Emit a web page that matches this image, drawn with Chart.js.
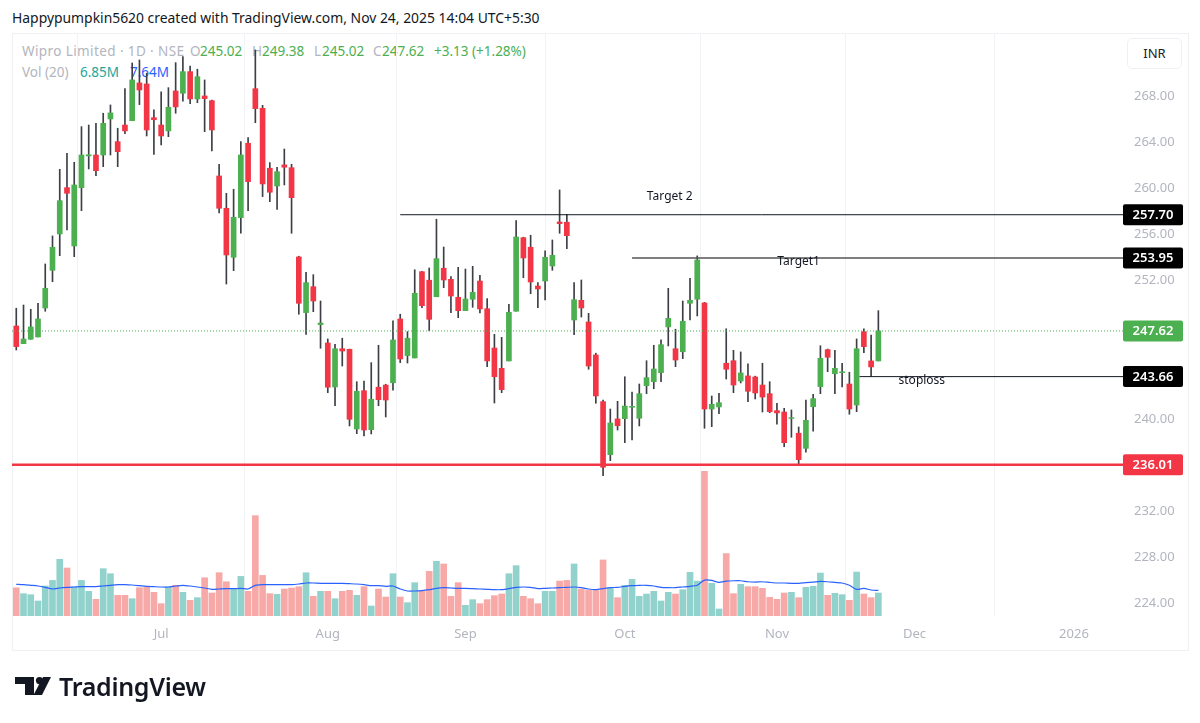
<!DOCTYPE html>
<html>
<head>
<meta charset="utf-8">
<title>Wipro Limited</title>
<script src="https://cdn.jsdelivr.net/npm/chart.js@4/dist/chart.umd.min.js"></script>
<style>
  html, body { margin: 0; padding: 0; background: #fff; }
  #page { position: relative; width: 1200px; height: 723px; overflow: hidden; font-family: "Noto Sans", sans-serif; }
  #page span, #page div.abs { position: absolute; white-space: nowrap; }
  #pane { position: absolute; left: 12px; top: 33px; width: 1175px; height: 616px; border: 1px solid #eef0f3; }
  #grafico { position: absolute; left: 0; top: 0; }
  .gray { color: #b2b5be; }
  .up { color: #4caf50; }
  .row1 { top: 42px; font-size: 13.5px; }
  .row2 { top: 63px; font-size: 13.5px; }
  #inr { left: 1127px; top: 38px; width: 53px; height: 29px; line-height: 29px; border: 1px solid #eef0f3; border-radius: 5px; text-align: center; font-size: 13px; color: #222; background: #fff; z-index: 2; }
  #marca { position: absolute; left: 0; top: 0; }
</style>
</head>
<body>
<div id="page">
  <span style="left:12px; top:8px; font-size:13.9px; color:#131722;">Happypumpkin5620 created with TradingView.com, Nov 24, 2025 14:04 UTC+5:30</span>
  <div id="pane"></div>

  <span class="gray row1" style="left:22px; letter-spacing:0.4px;">Wipro Limited · 1D · NSE</span>
  <span class="gray row1" style="left:190px;">O</span><span class="up row1" style="left:200px;">245.02</span>
  <span class="gray row1" style="left:252px;">H</span><span class="up row1" style="left:262px;">249.38</span>
  <span class="gray row1" style="left:314px;">L</span><span class="up row1" style="left:322px;">245.02</span>
  <span class="gray row1" style="left:373px;">C</span><span class="up row1" style="left:382px;">247.62</span>
  <span class="up row1" style="left:434px;">+3.13 (+1.28%)</span>
  <span class="gray row2" style="left:22px;">Vol (20)</span>
  <span class="row2" style="left:80px; color:#26a69a;">6.85M</span>
  <span class="row2" style="left:130px; color:#2962ff;">7.64M</span>

  <canvas id="grafico" width="1200" height="723"></canvas>
  <div class="abs" id="inr">INR</div>

  <svg id="marca" width="60" height="723">
    <path d="M15 677h19v18h-9v-11h-10z" fill="#131722"/>
    <circle cx="39.5" cy="680.6" r="3.6" fill="#131722"/>
    <path d="M43 677h8l-9 18h-8.5z" fill="#131722"/>
  </svg>
  <span style="left:59px; top:669px; font-size:25px; font-weight:600; color:#131722; letter-spacing:-0.3px;">TradingView</span>
</div>

<script>
// Daily candles
const opens = [248.05,246.52,246.90,247.10,249.61,252.88,256.03,260.05,254.99,260.05,262.80,262.88,262.88,266.01,264.04,265.48,265.86,269.13,269.04,266.12,
  265.48,264.97,268.43,268.23,270.11,267.74,268.00,267.59,261.06,258.26,254.01,257.45,263.90,268.63,266.93,261.73,260.19,262.02,261.78,254.04,
  249.21,251.46,248.17,246.58,242.76,246.08,246.03,239.12,242.44,239.06,242.74,242.93,243.13,248.66,245.48,245.28,252.76,252.02,250.59,253.06,
  252.10,250.54,249.38,250.37,251.95,249.55,246.14,244.38,245.02,249.33,255.71,254.88,251.52,251.95,253.26,257.07,257.05,248.57,250.28,248.40,
  245.54,241.49,236.89,239.99,240.01,241.00,240.05,242.87,243.22,244.00,247.97,246.08,245.82,250.02,250.37,250.05,240.85,241.03,244.82,245.04,
  243.28,243.72,243.63,242.93,242.18,240.71,240.59,240.03,238.75,237.44,241.05,242.79,246.00,243.91,244.00,243.02,241.20,247.56,245.02,245.02];
const highs = [249.59,249.87,249.50,250.02,253.43,255.86,261.64,263.03,262.25,265.34,265.48,265.63,266.50,267.22,265.20,268.63,270.86,271.12,269.97,266.79,
  268.35,268.72,270.89,271.41,270.60,270.32,269.39,267.65,262.08,259.56,259.91,264.04,264.38,271.99,267.19,262.22,261.82,263.40,262.08,254.10,
  252.71,252.50,250.22,246.93,246.47,246.99,246.05,243.22,243.28,244.87,246.38,243.00,248.49,249.07,247.56,252.93,252.80,253.08,257.31,254.90,
  252.33,253.14,252.99,253.23,252.45,250.42,247.33,247.07,249.93,257.19,255.75,255.92,251.81,254.56,255.51,259.85,257.74,251.81,252.04,249.15,
  245.69,241.63,240.85,241.52,243.65,242.33,243.02,245.04,246.38,246.84,251.32,247.77,250.22,252.19,254.13,250.10,241.98,242.22,247.81,245.94,
  245.80,244.76,243.70,244.82,243.22,241.35,240.91,240.77,239.29,241.63,242.13,246.34,246.05,245.94,244.82,244.04,246.93,247.81,247.27,249.38];
const lows = [245.97,246.52,246.90,247.10,249.33,251.89,254.15,256.38,254.06,258.05,261.67,261.09,261.87,262.88,261.87,264.73,265.86,267.25,264.53,262.94,
  263.75,264.47,266.50,267.54,267.33,267.42,264.90,263.23,257.85,251.69,252.85,256.09,258.05,265.68,259.27,258.83,258.17,260.28,256.09,249.07,
  247.33,249.29,246.12,242.27,241.14,244.58,239.38,238.71,238.51,238.69,241.14,240.16,242.48,244.87,244.84,245.28,249.64,247.64,250.59,251.37,
  249.21,248.77,249.38,249.67,249.18,244.52,241.37,242.27,245.02,249.33,252.24,250.85,249.64,250.31,252.88,256.09,254.76,247.30,248.83,244.30,
  241.35,235.07,236.37,239.03,237.93,238.17,239.38,242.18,242.61,243.22,246.32,244.52,245.22,248.57,248.92,239.18,239.32,240.45,243.45,242.27,
  243.11,241.49,241.72,240.59,240.53,239.53,237.58,238.40,236.02,237.10,238.92,242.18,244.09,242.18,242.76,240.40,240.62,245.74,243.69,245.02];
const closes = [246.26,246.92,247.97,248.66,251.32,254.88,258.92,259.56,260.28,262.88,262.90,261.52,265.63,266.53,263.17,264.97,269.39,268.52,265.05,265.94,
  264.53,267.02,267.05,270.11,267.74,269.67,267.77,265.05,258.26,254.21,257.48,262.88,260.57,266.90,260.37,259.65,261.43,261.82,259.18,250.02,
  251.81,250.22,248.31,242.74,246.08,245.88,239.96,242.39,239.03,241.70,241.66,241.63,246.84,245.19,246.99,250.89,249.81,248.63,253.89,252.04,
  250.65,249.38,250.39,250.97,249.53,245.02,243.65,242.53,249.24,255.77,253.95,251.87,251.26,254.01,254.18,256.93,255.88,250.33,249.61,244.58,
  241.98,235.80,239.64,239.40,241.11,241.08,242.18,243.57,244.32,246.43,248.72,245.10,248.46,250.28,253.78,240.85,241.26,241.40,244.30,242.93,
  243.98,242.39,242.24,241.89,240.62,240.51,237.93,240.10,236.46,239.87,241.75,245.25,245.34,244.38,244.08,240.85,246.08,246.26,244.50,247.62];

// Volume in millions and its 20 day average
const volumes = [8.4,6.65,6.35,4.47,8.94,10.6,16.9,14.3,8.64,10.6,7.35,4.97,14.1,12.6,6.16,6.16,5.16,8.44,8.64,7.05,
  3.67,8.64,9.14,7.05,4.67,5.46,11.4,6.85,12.9,10.2,8.14,11.8,7.35,29.9,12.1,6.65,6.45,8.04,8.34,8.74,
  12.9,5.86,7.35,7.35,5.16,7.35,7.65,6.16,8.74,2.98,8.04,5.66,12.6,5.66,3.97,9.93,7.45,13.3,16.3,15.5,
  5.86,9.93,3.18,4.87,3.67,4.87,6.06,6.55,12.6,15.0,5.86,5.16,3.67,7.35,7.35,10.4,10.6,15.5,8.04,7.65,
  7.65,16.7,8.44,5.46,9.14,10.9,5.86,6.55,7.35,4.47,7.05,6.55,7.84,13.0,10.4,43.1,9.73,2.09,18.6,6.65,
  9.43,8.74,8.74,8.24,5.56,4.97,6.85,7.05,5.46,8.54,8.84,12.8,6.16,6.75,6.35,4.67,13.1,6.55,5.46,6.85];
const volumeAverage = [9.43,9.33,9.14,8.94,8.54,8.04,8.34,8.54,8.64,8.74,8.74,8.74,8.94,9.14,9.33,9.33,9.23,9.04,8.84,8.74,
  8.64,8.64,8.94,9.14,8.94,8.64,8.34,7.94,8.04,8.14,8.14,8.24,8.04,9.14,9.33,9.33,9.33,9.33,9.33,9.53,
  9.83,9.83,9.73,9.73,9.73,9.73,9.63,9.53,9.33,9.04,9.04,8.84,8.94,8.04,7.45,7.45,7.55,7.84,8.24,8.44,
  8.34,8.24,8.24,8.14,8.04,7.94,7.84,7.84,8.14,8.54,8.64,8.54,8.14,8.24,8.34,8.44,8.54,8.64,8.44,8.04,
  7.84,8.14,8.44,8.54,8.84,9.04,9.14,9.14,8.94,8.54,8.44,8.44,8.64,8.84,9.14,10.7,10.6,10.0,10.4,10.5,
  10.5,10.2,10.1,10.2,10.0,9.83,9.83,9.73,9.73,9.93,10.1,10.3,10.2,10.0,9.83,9.14,7.94,8.24,7.75,7.64];

const priceTicks = [224,228,232,240,252,256,260,264,268];
const monthTicks = [20,43,62,84,105,124,146];
const monthLabels = ['Jul','Aug','Sep','Oct','Nov','Dec','2026'];

// Horizontal levels drawn on the chart, each starts at a candle index
const levelPrices = [257.70,253.95,243.66,236.01,247.62];
const levelStarts = [53,85,116.4,-0.59,-0.59];
const tagColors = ['#000000','#000000','#000000','#f23645','#4caf50'];
const noteTexts = ['Target 2','Target1','stoploss'];
const notePrices = [259.24,253.6,243.28];
const noteIndexes = [90.2,108,125];

const COLOR_UP = '#4caf50';
const COLOR_DOWN = '#f23645';
const xMin = -0.59;
const xMax = 152.77;

const isUp = opens.map((o, i) => closes[i] >= o);

function levelDataset(i, color, width, dash) {
  return {
    type: 'line',
    data: [{x: levelStarts[i], y: levelPrices[i]}, {x: xMax, y: levelPrices[i]}],
    borderColor: color,
    borderWidth: width,
    borderDash: dash || [],
    pointRadius: 0,
    yAxisID: 'y',
    order: 1
  };
}

// Notes and the price tags on the right edge
const tagsPlugin = {
  id: 'tags',
  afterDraw(chart) {
    const ctx = chart.ctx;
    const yScale = chart.scales.y;
    const xScale = chart.scales.x;
    ctx.save();
    ctx.textBaseline = 'middle';
    ctx.textAlign = 'center';
    ctx.font = '12px "Noto Sans"';
    ctx.fillStyle = '#131722';
    noteTexts.forEach((t, i) => {
      ctx.fillText(t, xScale.getPixelForValue(noteIndexes[i]), yScale.getPixelForValue(notePrices[i]));
    });
    ctx.font = '600 13px "Noto Sans"';
    levelPrices.forEach((p, i) => {
      const y = yScale.getPixelForValue(p);
      ctx.fillStyle = tagColors[i];
      ctx.beginPath();
      ctx.roundRect(1123, y - 10.5, 60, 21, 2);
      ctx.fill();
      ctx.fillStyle = '#ffffff';
      ctx.fillText(p.toFixed(2), 1153, y + 0.5);
    });
    ctx.restore();
  }
};

new Chart(document.getElementById('grafico').getContext('2d'), {
  type: 'bar',
  plugins: [tagsPlugin],
  data: {
    datasets: [
      levelDataset(0, '#131722', 1),
      levelDataset(1, '#555555', 1.5),
      levelDataset(2, '#131722', 1),
      levelDataset(3, '#f23645', 2.5),
      levelDataset(4, '#4caf50', 1, [1, 2]),
      // candle bodies
      {
        data: opens.map((o, i) => ({x: i, y: [o, closes[i]]})),
        backgroundColor: isUp.map(u => u ? COLOR_UP : COLOR_DOWN),
        barThickness: 5,
        grouped: false,
        yAxisID: 'y',
        order: 2
      },
      // wicks
      {
        data: lows.map((l, i) => ({x: i, y: [l, highs[i]]})),
        backgroundColor: '#3c3f45',
        barThickness: 1,
        grouped: false,
        yAxisID: 'y',
        order: 3
      },
      // volume average
      {
        type: 'line',
        data: volumeAverage.map((v, i) => ({x: i, y: v})),
        borderColor: '#2962ff',
        borderWidth: 1.2,
        pointRadius: 0,
        tension: 0.2,
        yAxisID: 'yVol',
        order: 4
      },
      // volume
      {
        data: volumes.map((v, i) => ({x: i, y: v})),
        backgroundColor: isUp.map(u => u ? '#92d2cc' : '#f7a9a7'),
        barThickness: 6,
        grouped: false,
        yAxisID: 'yVol',
        order: 5
      }
    ]
  },
  options: {
    responsive: false,
    animation: false,
    layout: {padding: {left: 12, top: 33, right: 12, bottom: 73}},
    plugins: {legend: {display: false}, tooltip: {enabled: false}},
    scales: {
      x: {
        type: 'linear',
        offset: false,
        min: xMin,
        max: xMax,
        afterBuildTicks: scale => { scale.ticks = monthTicks.map(v => ({value: v})); },
        afterFit: scale => { scale.height = 34; },
        border: {display: false},
        grid: {color: '#f2f3f6', lineWidth: 1, drawTicks: false},
        ticks: {
          autoSkip: false,
          maxRotation: 0,
          padding: 10,
          color: '#b2b5be',
          font: {family: '"Noto Sans"', size: 13},
          callback: v => monthLabels[monthTicks.indexOf(v)]
        }
      },
      y: {
        position: 'right',
        min: 222.90,
        max: 273.46,
        afterBuildTicks: scale => { scale.ticks = priceTicks.map(v => ({value: v})); },
        afterFit: scale => { scale.width = 65; },
        border: {display: false},
        grid: {display: false, drawTicks: false},
        ticks: {
          padding: 11,
          color: '#b2b5be',
          font: {family: '"Noto Sans"', size: 13},
          callback: v => v.toFixed(2)
        }
      },
      yVol: {
        display: false,
        min: 0,
        max: 173.7
      }
    }
  }
});
</script>
</body>
</html>
